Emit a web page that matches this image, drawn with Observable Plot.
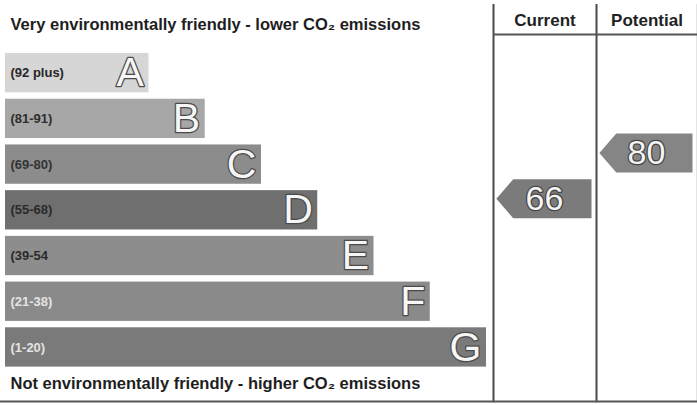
<!DOCTYPE html>
<html><head><meta charset="utf-8">
<script src="https://cdn.jsdelivr.net/npm/d3@7"></script>
<script src="https://cdn.jsdelivr.net/npm/@observablehq/plot@0.6"></script>
<style>body{margin:0;background:#fff} svg{display:block}</style>
</head><body><div id="chart"></div>
<script>
// ---- data ----
const bands = ["A","B","C","D","E","F","G"];
const bandMins = [92, 81, 69, 55, 39, 21, 1];
const ranges = ["(92 plus)","(81-91)","(69-80)","(55-68)","(39-54","(21-38)","(1-20)"];
const bandColors = ["#d6d6d6","#a7a7a7","#8c8c8c","#6f6f6f","#8d8d8d","#8a8a8a","#7a7a7a"];
const rangeTextColors = ["#262626","#2e2e2e","#333333","#2a2a2a","#2a2a2a","#e4e4e4","#e4e4e4"];
const columns = ["Current","Potential"];
const scores = [66, 80];
const arrowColors = ["#7b7b7b","#858585"];
const topLabel = "Very environmentally friendly - lower CO\u2082 emissions";
const bottomLabel = "Not environmentally friendly - higher CO\u2082 emissions";

// ---- layout (row / unit geometry) ----
const H = 0.86;                 // bar thickness as share of a row
const colEdges = [8.674, 10.505, 12.3];
const bandIndex = s => bandMins.findIndex(m => s >= m);

const rows = bands.map((b, i) => ({
  band: b, i, range: ranges[i], color: bandColors[i], tcolor: rangeTextColors[i],
  y1: i, y2: i + H, x2: 2.55 + i
}));

const arrows = scores.map((s, c) => {
  const bi = bandIndex(s);
  const cy = bi + H / 2;
  const left = colEdges[c] + 0.06, right = colEdges[c + 1] - 0.08;
  return {score: s, c, cy, left, right, color: arrowColors[c]};
});
const arrowPts = arrows.flatMap(a => [
  {c: a.c, x: a.left, y1: a.cy, y2: a.cy, color: a.color},
  {c: a.c, x: a.left + 0.3, y1: a.cy - 0.427, y2: a.cy + 0.427, color: a.color},
  {c: a.c, x: a.right, y1: a.cy - 0.427, y2: a.cy + 0.427, color: a.color}
]);

const chart = Plot.plot({
  width: 697, height: 405,
  marginLeft: 0, marginRight: 0, marginTop: 0, marginBottom: 0,
  x: {domain: [0, 12.3], range: [5, 697], axis: null},
  y: {domain: [-1.16, 7.70], range: [0, 405], axis: null},
  style: {fontFamily: "'Liberation Sans', Arial, sans-serif", background: "#fff"},
  marks: [
    // grid lines
    Plot.ruleX(colEdges.slice(0, 2), {y1: -1.07, y2: 7.64, stroke: "#4a4a4a", strokeWidth: 2}),
    Plot.ruleX([12.29], {y1: -1.07, y2: 7.64, stroke: "#d0d0d0", strokeWidth: 1}),
    Plot.ruleY([-0.416], {x1: colEdges[0], x2: 12.3, stroke: "#555", strokeWidth: 2}),
    Plot.ruleY([7.615], {x1: -0.09, x2: 12.3, stroke: "#555", strokeWidth: 2}),
    // bars
    Plot.rectX(rows, {x1: 0, x2: "x2", y1: "y1", y2: "y2", fill: "color"}),
    Plot.text(rows, {x: 0, y: d => d.i + H / 2, text: "range", textAnchor: "start", dx: 5,
      fontSize: 13, fontWeight: "bold", fill: "tcolor"}),
    Plot.text(rows, {x: "x2", y: d => d.i + H / 2, text: "band", textAnchor: "end", dx: -5,
      fontSize: 41, fill: "#f6f6f6", stroke: "#4a4a4a", strokeWidth: 2.5, paintOrder: "stroke"}),
    // arrows
    Plot.area(arrowPts, {x1: "x", y1: "y1", y2: "y2", z: "c", fill: "color", dy: -11, curve: "linear"}),
    Plot.text(arrows, {x: d => (d.left + d.right) / 2, y: "cy", dy: -11, text: d => String(d.score),
      fontSize: 34, fill: "#f4f4f4", stroke: "#444", strokeWidth: 2.5, paintOrder: "stroke"}),
    // headers
    Plot.text(columns, {x: (d, i) => (colEdges[i] + colEdges[i + 1]) / 2, y: -0.72, text: d => d,
      fontSize: 17, fontWeight: "bold", fill: "#222"}),
    Plot.text([topLabel], {frameAnchor: "top-left", dx: 10, dy: 18, lineAnchor: "top", text: d => d,
      fontSize: 16.5, fontWeight: "bold", fill: "#1e1e1e"}),
    Plot.text([bottomLabel], {frameAnchor: "top-left", dx: 10, dy: 377, lineAnchor: "top", text: d => d,
      fontSize: 16.5, fontWeight: "bold", fill: "#1e1e1e"})
  ]
});
document.getElementById("chart").appendChild(chart);
</script>
</body></html>
